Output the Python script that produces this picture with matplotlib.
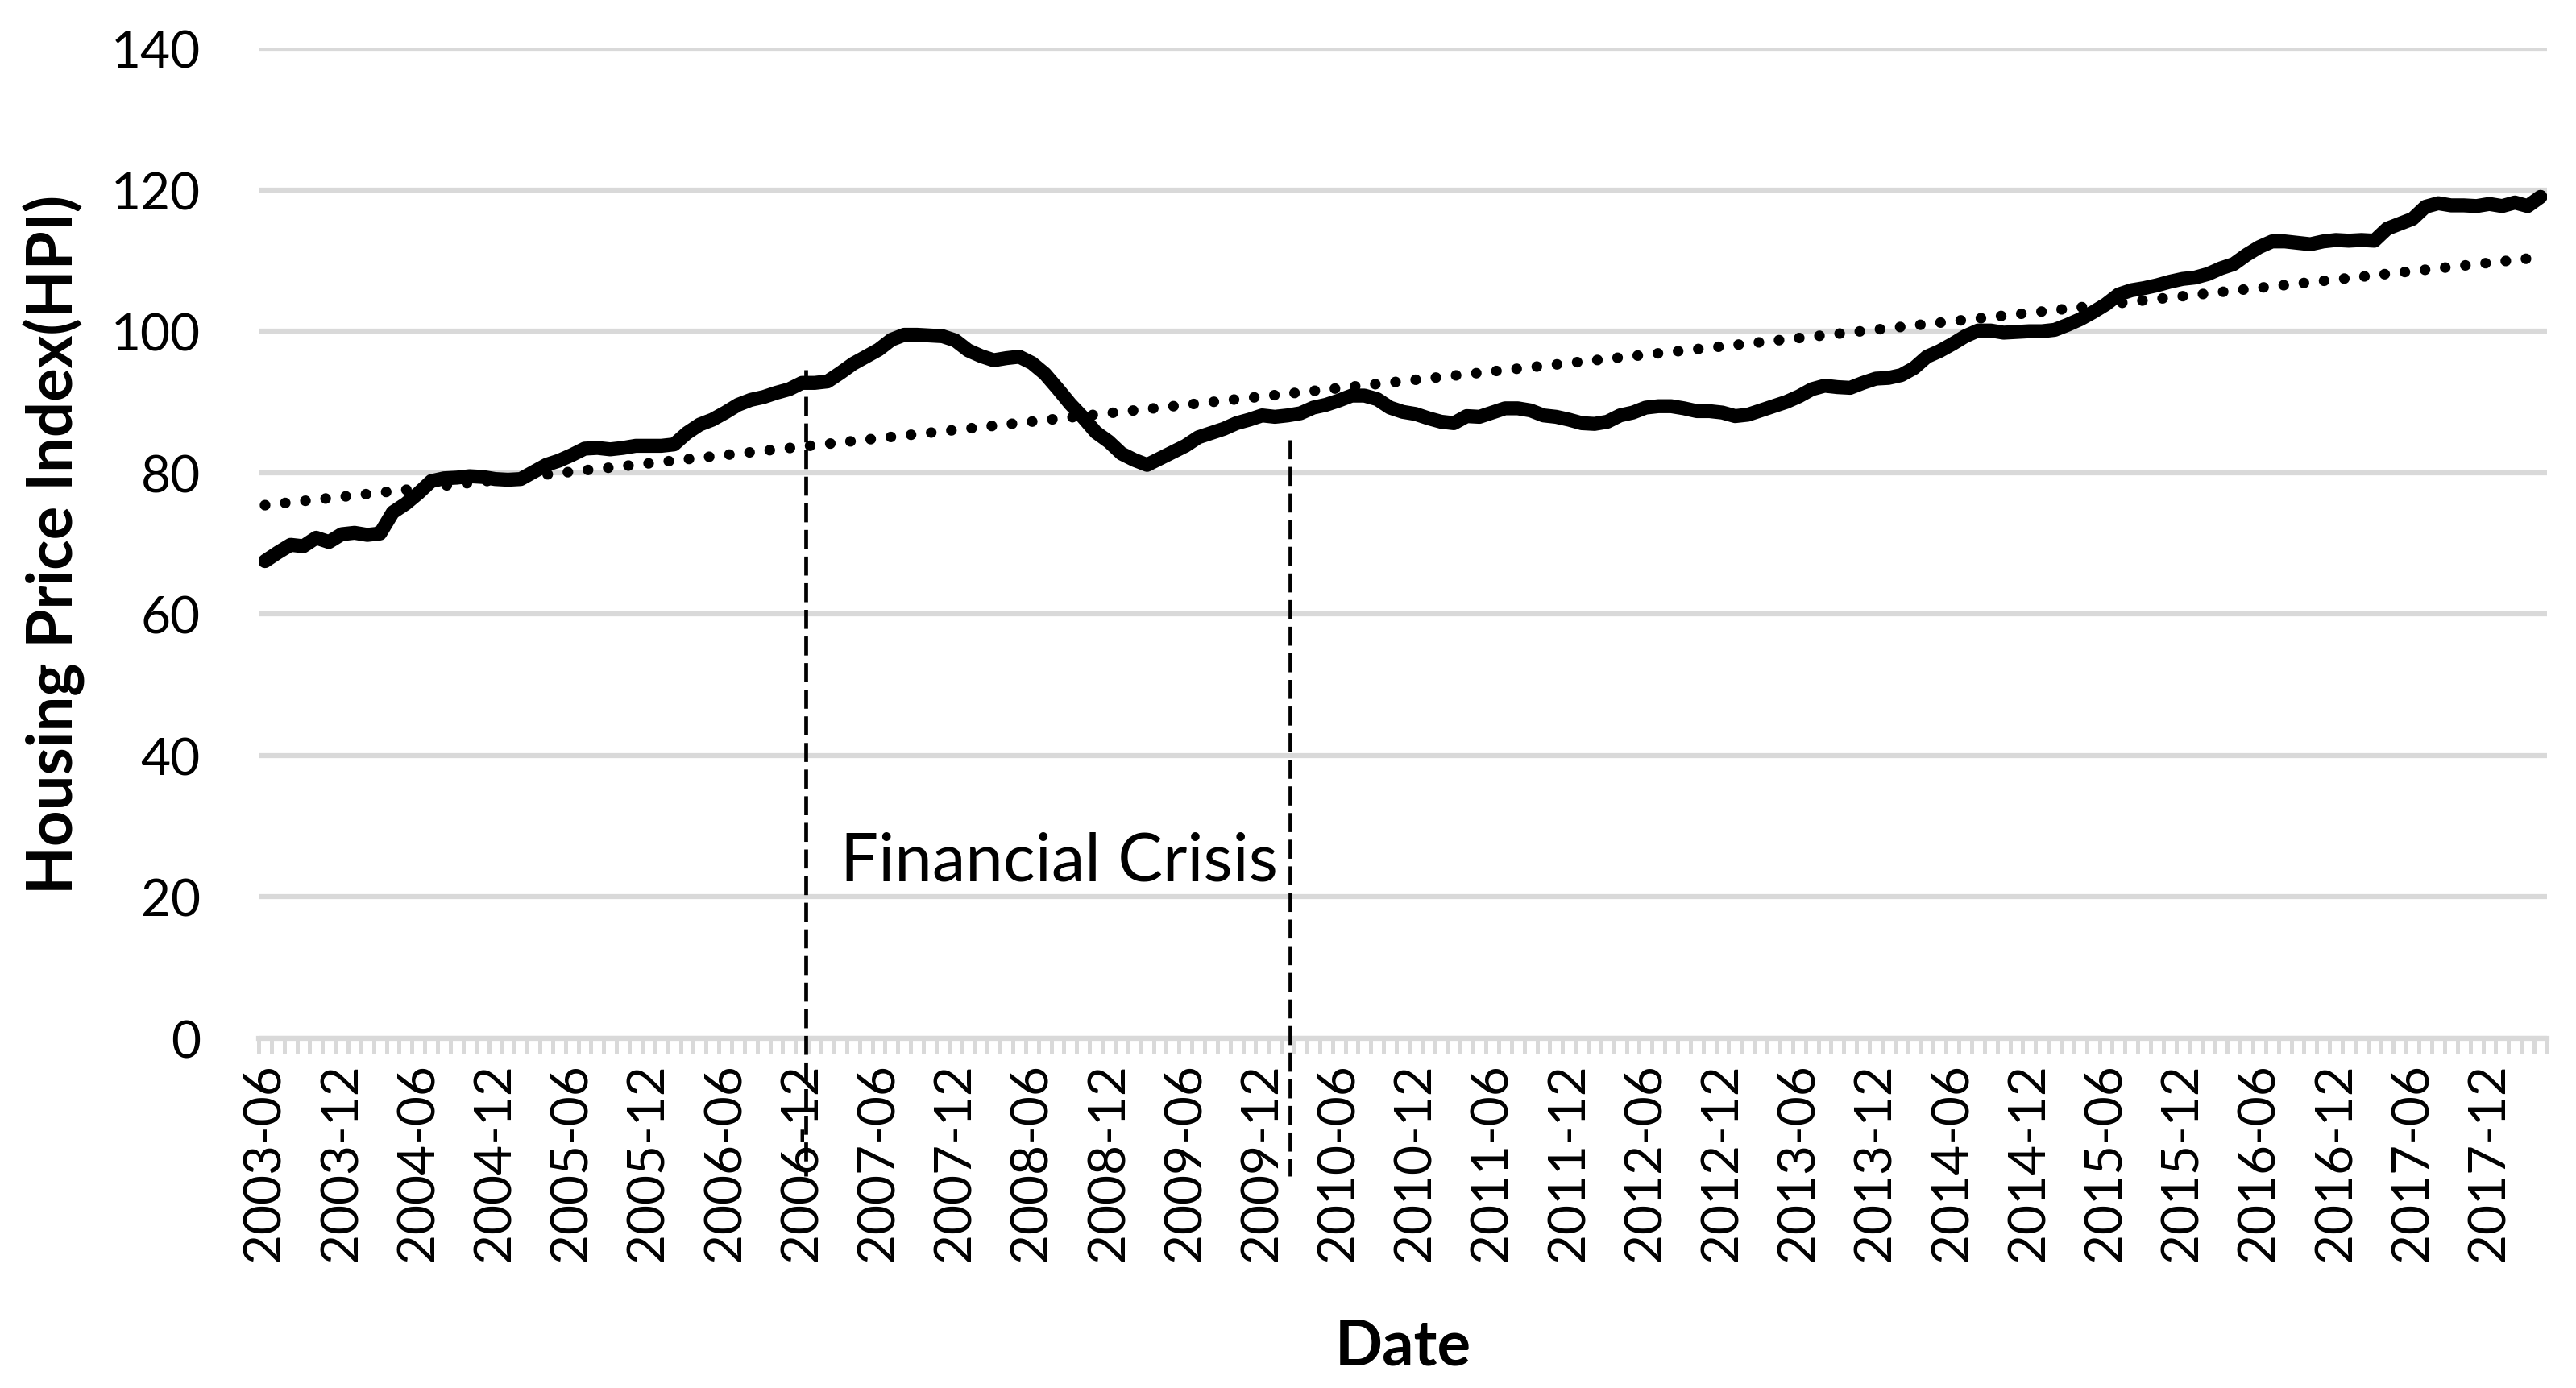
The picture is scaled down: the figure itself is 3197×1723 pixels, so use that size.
import numpy as np
import matplotlib.pyplot as plt
import pandas as pd

plt.rcParams['font.family'] = ['Lato', 'DejaVu Sans']

# monthly housing price index, 2003-06 .. 2018-04
months = pd.period_range("2003-06", "2018-04", freq="M").strftime("%Y-%m").tolist()
hpi = [
    67.5, 68.7, 69.8, 69.6, 70.8, 70.2, 71.3, 71.5, 71.2, 71.4,
    74.4, 75.6, 77.1, 78.8, 79.2, 79.3, 79.5, 79.4, 79.1, 79.0,
    79.1, 80.1, 81.1, 81.7, 82.5, 83.4, 83.5, 83.3, 83.5, 83.8,
    83.8, 83.8, 84.0, 85.6, 86.8, 87.5, 88.5, 89.6, 90.3, 90.7,
    91.3, 91.8, 92.7, 92.7, 92.9, 94.1, 95.4, 96.4, 97.4, 98.8,
    99.5, 99.5, 99.4, 99.3, 98.7, 97.3, 96.5, 95.9, 96.2, 96.4,
    95.5, 94.0, 91.9, 89.7, 87.8, 85.7, 84.4, 82.7, 81.8, 81.1,
    82.0, 82.9, 83.8, 85.0, 85.6, 86.2, 87.0, 87.5, 88.1, 87.9,
    88.1, 88.4, 89.2, 89.6, 90.2, 90.9, 90.9, 90.4, 89.2, 88.6,
    88.3, 87.7, 87.2, 87.0, 88.0, 87.9, 88.5, 89.1, 89.1, 88.8,
    88.1, 87.9, 87.5, 87.0, 86.9, 87.2, 88.1, 88.5, 89.2, 89.4,
    89.4, 89.1, 88.7, 88.7, 88.5, 88.0, 88.2, 88.8, 89.4, 90.0,
    90.8, 91.8, 92.3, 92.1, 92.0, 92.7, 93.3, 93.4, 93.8, 94.8,
    96.4, 97.2, 98.2, 99.3, 100.1, 100.1, 99.8, 99.9, 100.0, 100.0,
    100.2, 100.9, 101.7, 102.7, 103.8, 105.2, 105.8, 106.1, 106.5, 107.0,
    107.4, 107.6, 108.1, 108.9, 109.5, 110.8, 111.9, 112.7, 112.7, 112.5,
    112.3, 112.7, 112.9, 112.8, 112.9, 112.8, 114.5, 115.2, 115.9, 117.6,
    118.1, 117.8, 117.8, 117.7, 118.0, 117.7, 118.2, 117.7, 119.0,
]
yticks = [0, 20, 40, 60, 80, 100, 120, 140]

crisis_start = "2006-12"
crisis_end = "2010-02"

x = np.arange(len(hpi))
slope, intercept = np.polyfit(x, hpi, 1)
trend = slope * x + intercept

fig = plt.figure(figsize=(31.97, 17.24), dpi=100)
ax = fig.add_axes([0.1004, 0.2517, 0.8883, 0.7129])

ax.plot(x, hpi, color="black", lw=12.5, solid_joinstyle="round",
        solid_capstyle="round", zorder=3)
ax.plot(x, trend, color="black", lw=9.5, linestyle=(0, (0.01, 1.9)),
        dash_capstyle="round", zorder=2)

# crisis markers (drawn down into the date labels, like the original)
xs = months.index(crisis_start) + 0.3
xe = months.index(crisis_end) + 0.2
ax.plot([xs, xs], [94.6, -19.5], color="black", lw=3.4, linestyle=(0, (5, 2)),
        clip_on=False, zorder=4)
ax.plot([xe, xe], [84.7, -19.5], color="black", lw=3.4, linestyle=(0, (5, 2)),
        clip_on=False, zorder=4)
ax.text(45, 25, "Financial Crisis", fontsize=60, ha="left", va="center")

ax.set_xlim(-0.5, len(hpi) - 0.5)
ax.set_ylim(0, 140)
ax.set_yticks(yticks)
ax.set_yticklabels([str(v) for v in yticks])

ax.set_xticks(x[::6])
ax.set_xticklabels(months[::6], rotation=90)
ax.set_xticks(np.arange(len(hpi) + 1) - 0.5, minor=True)

ax.tick_params(axis="y", length=0, pad=52, labelsize=46)
ax.tick_params(axis="x", which="major", length=0, pad=22, labelsize=46)
ax.tick_params(axis="x", which="minor", length=14, width=3.6,
               color="#D9D9D9", direction="out")

ax.yaxis.grid(True, color="#D9D9D9", lw=4.5)
ax.set_axisbelow(True)
for s in ["top", "right", "left"]:
    ax.spines[s].set_visible(False)
ax.spines["bottom"].set_color("#D9D9D9")
ax.spines["bottom"].set_linewidth(4.5)

ax.set_ylabel("Housing Price Index(HPI)", fontsize=56, fontweight="bold")
ax.yaxis.set_label_coords(-0.0894, 0.5)
ax.yaxis.label.set_va("center")
ax.set_xlabel("Date", fontsize=56, fontweight="bold")
ax.xaxis.set_label_coords(0.5, -0.311)
ax.xaxis.label.set_va("center")

fig.savefig("out.png", dpi=100)
